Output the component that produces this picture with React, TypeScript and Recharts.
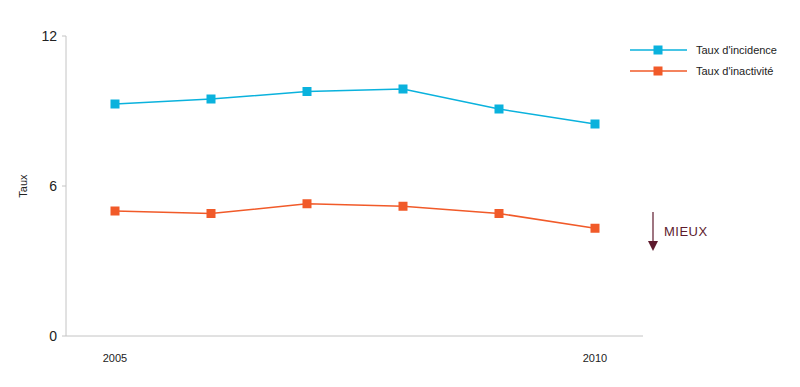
import React from 'react';
import { LineChart, Line, XAxis, YAxis, Label } from 'recharts';

const years = ['2005', '2006', '2007', '2008', '2009', '2010'];
const incidence = [9.28, 9.48, 9.78, 9.88, 9.08, 8.48];
const inactivite = [5.0, 4.9, 5.29, 5.19, 4.9, 4.31];
const yTicks = [0, 6, 12];
const xTickLabels = ['2005', '2010'];
const seriesNames = ["Taux d'incidence", "Taux d'inactivité"];
const yTitle = 'Taux';

const BLUE = '#0ab2dd';
const ORANGE = '#f15a29';
const MAROON = '#5e1a2d';
const FONT = '"Liberation Sans", Arial, sans-serif';

const data = years.map((y, i) => ({ year: y, a: incidence[i], b: inactivite[i] }));

const square = (color: string) => (props: any) => {
  const { cx, cy, index } = props;
  if (cx == null || cy == null) return <g key={index} />;
  return <rect key={index} x={cx - 4.5} y={cy - 4.5} width={9} height={9} fill={color} />;
};

const YTitle = (props: any) => {
  const vb = props.viewBox || { x: 0, y: 36, width: 66, height: 300 };
  const x = vb.x + 27;
  const y = vb.y + vb.height / 2;
  return (
    <text x={x} y={y} transform={`rotate(-90, ${x}, ${y})`} textAnchor="middle" fontSize={11} fill="#222" fontFamily={FONT}>
      {yTitle}
    </text>
  );
};

export default function App() {
  return (
    <div style={{ position: 'absolute', left: 0, top: 0, width: 800, height: 387, background: '#fff', fontFamily: FONT }}>
      <LineChart width={800} height={387} data={data} margin={{ top: 36, right: 157, bottom: 21, left: 0 }}>
        <XAxis
          dataKey="year"
          padding={{ left: 49, right: 48 }}
          axisLine={{ stroke: '#c4c4c4' }}
          tickLine={false}
          tickSize={16}
          tickMargin={2}
          height={30}
          interval={0}
          tickFormatter={(v: string) => (xTickLabels.includes(v) ? v : '')}
          tick={{ fontSize: 11, fill: '#222', fontFamily: FONT }}
        />
        <YAxis
          domain={[0, 12]}
          ticks={yTicks}
          width={66}
          axisLine={{ stroke: '#c4c4c4' }}
          tickLine={{ stroke: '#c4c4c4' }}
          tickSize={4}
          tickMargin={5}
          tick={{ fontSize: 14, fill: '#222', fontFamily: FONT }}
        >
          <Label content={YTitle} />
        </YAxis>
        <Line dataKey="a" name={seriesNames[0]} stroke={BLUE} strokeWidth={1.5} dot={square(BLUE)} activeDot={false} isAnimationActive={false} />
        <Line dataKey="b" name={seriesNames[1]} stroke={ORANGE} strokeWidth={1.5} dot={square(ORANGE)} activeDot={false} isAnimationActive={false} />
      </LineChart>
      <svg width={800} height={387} style={{ position: 'absolute', left: 0, top: 0, pointerEvents: 'none' }}>
        <g fontFamily={FONT} fontSize={11} fill="#222">
          <line x1={630} x2={687} y1={50} y2={50} stroke={BLUE} strokeWidth={1.5} />
          <rect x={653.5} y={45.5} width={9} height={9} fill={BLUE} />
          <text x={696} y={54}>{seriesNames[0]}</text>
          <line x1={630} x2={687} y1={71} y2={71} stroke={ORANGE} strokeWidth={1.5} />
          <rect x={653.5} y={66.5} width={9} height={9} fill={ORANGE} />
          <text x={696} y={75}>{seriesNames[1]}</text>
        </g>
        <line x1={653} x2={653} y1={212} y2={243} stroke={MAROON} strokeWidth={1.2} />
        <polygon points="648,241 658,241 653,251" fill={MAROON} />
        <text x={664} y={236} fontFamily={FONT} fontSize={13} fill={MAROON} letterSpacing={0.5}>MIEUX</text>
      </svg>
    </div>
  );
}
